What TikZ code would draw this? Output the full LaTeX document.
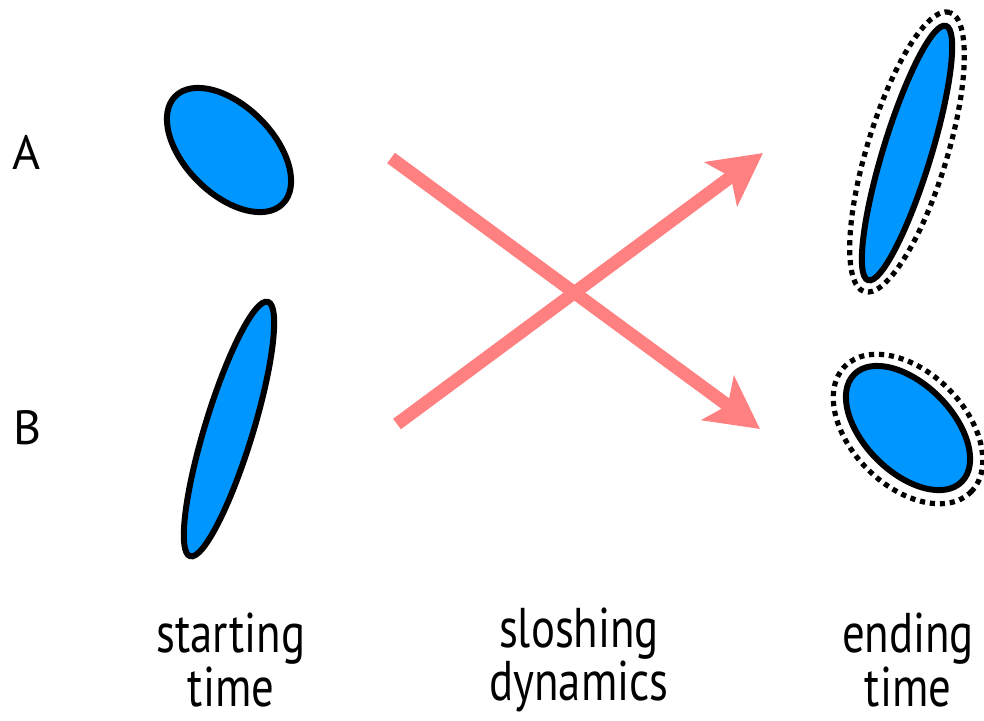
\documentclass[tikz,border=0pt]{standalone}
\usepackage{fontspec}
\setmainfont{PT Sans}
\newfontfamily\narrowfont{PT Sans}[FakeStretch=0.8]
\usetikzlibrary{shapes.geometric,arrows.meta}
\definecolor{blob}{RGB}{0,150,255}
\definecolor{salmon}{RGB}{255,128,128}
\tikzset{
  blobshape/.style={ellipse, draw=black, fill=blob, line width=3pt, inner sep=0pt},
  ringshape/.style={ellipse, draw=black, line width=2.6pt, dash pattern=on 2.6pt off 2.4pt, inner sep=0pt},
  flow/.style={draw=salmon, line width=6.5pt, -{Stealth[length=26pt,width=27pt,inset=6pt]}},
  rowlabel/.style={font=\fontsize{24pt}{28pt}\selectfont},
  collabel/.style={font=\narrowfont\fontsize{28pt}{25pt}\selectfont, align=center}
}
\begin{document}
\begin{tikzpicture}[x=0.5pt,y=-0.5pt]
\useasboundingbox (0,0) rectangle (984,720);
% start
\node[blobshape, minimum width=76pt, minimum height=44pt, rotate=-45] (as) at (229,150) {};
\node[blobshape, minimum width=133pt, minimum height=24pt, rotate=73] (bs) at (229,429) {};
% end
\node[blobshape, minimum width=133pt, minimum height=24pt, rotate=73] (ae) at (907,153) {};
\node[ringshape, minimum width=146pt, minimum height=40pt, rotate=73] (aer) at (907,152) {};
\node[blobshape, minimum width=76pt, minimum height=44pt, rotate=-45] (be) at (908,428) {};
\node[ringshape, minimum width=89pt, minimum height=57pt, rotate=-45] (ber) at (908,429) {};
% arrows
\coordinate (s1) at (391,158);
\coordinate (t1) at (760,429);
\coordinate (s2) at (397,424);
\coordinate (t2) at (763,153);
\draw[flow] (s1) -- (t1);
\draw[flow] (s2) -- (t2);
% labels
\node[rowlabel] (la) at (27,152) {A};
\node[rowlabel] (lb) at (28,428) {B};
\node[collabel] (c1) at (231,660) {starting\\time};
\node[collabel] (c2) at (579,660) {sloshing\\dynamics};
\node[collabel] (c3) at (908,660) {ending\\time};
\end{tikzpicture}
\end{document}
